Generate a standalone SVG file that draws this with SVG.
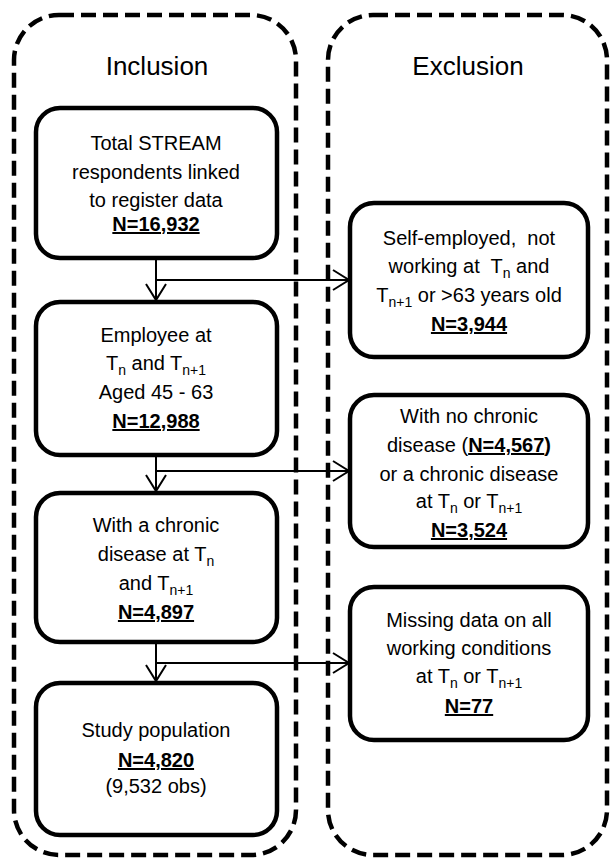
<svg xmlns="http://www.w3.org/2000/svg" width="610" height="860" viewBox="0 0 610 860">
<defs>
<style>
.cont{fill:none;stroke:#000;stroke-width:4.5;stroke-dasharray:15 7}
.box{fill:#fff;stroke:#000;stroke-width:4.5}
.ln{fill:none;stroke:#000;stroke-width:2}
text{font-family:"Liberation Sans",Arial,sans-serif;font-size:20px;fill:#000;text-anchor:middle}
.title{font-size:26px}
.n{font-weight:bold;text-decoration:underline}
.s{font-size:14px}
</style>
<marker id="ah" markerUnits="userSpaceOnUse" markerWidth="24" markerHeight="24" viewBox="-20 -12 22 24" refX="0" refY="0" orient="auto">
<path d="M-16 -10 L0 0 L-16 10" fill="none" stroke="#000" stroke-width="2"/>
</marker>
</defs>
<rect fill="#fff" x="0" y="0" width="610" height="860"/>
<g id="inclusion-panel">
<rect class="cont" x="14" y="15" width="282" height="840" rx="45"/>
<text class="title" x="157" y="75">Inclusion</text>
</g>
<g id="exclusion-panel">
<rect class="cont" x="328" y="15" width="279" height="840" rx="45"/>
<text class="title" x="468" y="75">Exclusion</text>
</g>
<g id="connectors">
<line class="ln" x1="156" y1="258" x2="156" y2="300" marker-end="url(#ah)"/>
<line class="ln" x1="156" y1="280" x2="349" y2="280" marker-end="url(#ah)"/>
<line class="ln" x1="156" y1="455" x2="156" y2="491" marker-end="url(#ah)"/>
<line class="ln" x1="156" y1="471" x2="349" y2="471" marker-end="url(#ah)"/>
<line class="ln" x1="156" y1="642" x2="156" y2="681" marker-end="url(#ah)"/>
<line class="ln" x1="156" y1="663" x2="349" y2="663" marker-end="url(#ah)"/>
</g>
<g id="total">
<rect class="box" x="36" y="108" width="241" height="150" rx="24"/>
<text x="156" y="150">Total STREAM</text>
<text x="156" y="179">respondents linked</text>
<text x="156" y="207">to register data</text>
<text x="156" y="231" class="n">N=16,932</text>
</g>
<g id="employee">
<rect class="box" x="36" y="302" width="241" height="153" rx="24"/>
<text x="156" y="342">Employee at</text>
<text x="156" y="370">T<tspan class="s" dy="5">n</tspan><tspan dy="-5"> and T</tspan><tspan class="s" dy="5">n+1</tspan></text>
<text x="156" y="399">Aged 45 - 63</text>
<text x="156" y="428" class="n">N=12,988</text>
</g>
<g id="chronic">
<rect class="box" x="36" y="493" width="241" height="149" rx="24"/>
<text x="156" y="532">With a chronic</text>
<text x="156" y="561">disease at T<tspan class="s" dy="5">n</tspan></text>
<text x="156" y="590">and T<tspan class="s" dy="5">n+1</tspan></text>
<text x="156" y="619" class="n">N=4,897</text>
</g>
<g id="study">
<rect class="box" x="36" y="683" width="241" height="152" rx="24"/>
<text x="156" y="737">Study population</text>
<text x="156" y="767" class="n">N=4,820</text>
<text x="156" y="793">(9,532 obs)</text>
</g>
<g id="excl1">
<rect class="box" x="350" y="203" width="238" height="154" rx="24"/>
<text x="469" y="245">Self-employed,&#160; not</text>
<text x="469" y="273">working at&#160; T<tspan class="s" dy="5">n</tspan><tspan dy="-5"> and</tspan></text>
<text x="469" y="302">T<tspan class="s" dy="5">n+1</tspan><tspan dy="-5"> or &gt;63 years old</tspan></text>
<text x="469" y="331" class="n">N=3,944</text>
</g>
<g id="excl2">
<rect class="box" x="350" y="395" width="238" height="152" rx="24"/>
<text x="469" y="423">With no chronic</text>
<text x="469" y="452">disease (<tspan class="n">N=4,567</tspan><tspan font-weight="bold">)</tspan></text>
<text x="469" y="481">or a chronic disease</text>
<text x="469" y="508">at T<tspan class="s" dy="5">n</tspan><tspan dy="-5"> or T</tspan><tspan class="s" dy="5">n+1</tspan></text>
<text x="469" y="537" class="n">N=3,524</text>
</g>
<g id="excl3">
<rect class="box" x="350" y="587" width="238" height="153" rx="24"/>
<text x="469" y="627">Missing data on all</text>
<text x="469" y="655">working conditions</text>
<text x="469" y="683">at T<tspan class="s" dy="5">n</tspan><tspan dy="-5"> or T</tspan><tspan class="s" dy="5">n+1</tspan></text>
<text x="469" y="713" class="n">N=77</text>
</g>
</svg>
